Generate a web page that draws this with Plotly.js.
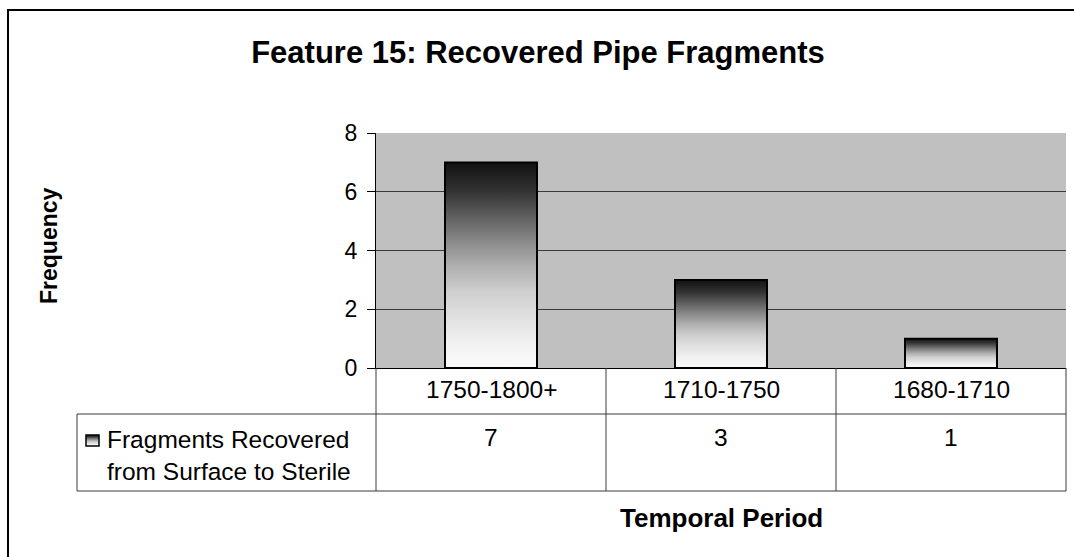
<!DOCTYPE html>
<html>
<head>
<meta charset="utf-8">
<script src="https://cdn.plot.ly/plotly-3.0.1.min.js"></script>
<style>
  html, body { margin: 0; padding: 0; background: #ffffff; overflow: hidden; }
  #wrap { position: relative; width: 1074px; height: 557px; }
  #chart { width: 1074px; height: 557px; }
  #frame { position: absolute; left: 7px; top: 9px; width: 1100px; height: 600px;
           border-left: 2px solid #000; border-top: 2px solid #000; pointer-events: none; }
</style>
</head>
<body>
<svg width="0" height="0" style="position:absolute">
  <defs>
    <linearGradient id="barGrad" x1="0" y1="0" x2="0" y2="1">
      <stop offset="0" stop-color="#111111"/>
      <stop offset="0.14" stop-color="#333333"/>
      <stop offset="0.25" stop-color="#5a5a5a"/>
      <stop offset="0.38" stop-color="#888888"/>
      <stop offset="0.5" stop-color="#aeaeae"/>
      <stop offset="0.63" stop-color="#cfcfcf"/>
      <stop offset="0.87" stop-color="#f0f0f0"/>
      <stop offset="1" stop-color="#fbfbfb"/>
    </linearGradient>
  </defs>
</svg>
<div id="wrap">
  <div id="chart"></div>
  <div id="frame"></div>
</div>
<script>
// ---- data ----
const chartTitle = 'Feature 15: Recovered Pipe Fragments';
const categories = ['1750-1800+', '1710-1750', '1680-1710'];
const fragments = [7, 3, 1];
const seriesName = 'Fragments Recovered from Surface to Sterile';
const legendLines = ['Fragments Recovered', 'from Surface to Sterile'];
const yTicks = [0, 2, 4, 6, 8];
const xTitle = 'Temporal Period';
const yTitle = 'Frequency';

// ---- layout geometry (pixels) ----
const W = 1074, H = 557;
const plotL = 376, plotR = 1066, plotT = 133, plotB = 368;
const pw = plotR - plotL, ph = plotB - plotT;
const px = x => (x - plotL) / pw;        // pixel x -> paper x
const py = y => (plotB - y) / ph;        // pixel y -> paper y

const FONT = '"Liberation Sans", Arial, sans-serif';
const lineCol = '#3a3a3a';
const tableFont = 24.5;

const rowHeadBottom = 414, rowDataBottom = 491, legendLeft = 77;

const shapes = [];
// table lines
shapes.push({type: 'line', xref: 'paper', yref: 'paper', x0: px(legendLeft), x1: 1, y0: py(rowHeadBottom), y1: py(rowHeadBottom), line: {color: lineCol, width: 1}});
shapes.push({type: 'line', xref: 'paper', yref: 'paper', x0: px(legendLeft), x1: 1, y0: py(rowDataBottom), y1: py(rowDataBottom), line: {color: lineCol, width: 1}});
shapes.push({type: 'line', xref: 'paper', yref: 'paper', x0: px(legendLeft), x1: px(legendLeft), y0: py(rowHeadBottom), y1: py(rowDataBottom), line: {color: lineCol, width: 1}});
shapes.push({type: 'line', xref: 'paper', yref: 'paper', x0: 0, x1: 0, y0: 0, y1: py(rowDataBottom), line: {color: lineCol, width: 1}});
shapes.push({type: 'line', xref: 'paper', yref: 'paper', x0: 1, x1: 1, y0: 0, y1: py(rowDataBottom), line: {color: lineCol, width: 1}});
for (let i = 0; i < categories.length - 1; i++) {
  shapes.push({type: 'line', xref: 'x', yref: 'paper', x0: i + 0.5, x1: i + 0.5, y0: 0, y1: py(rowDataBottom), line: {color: lineCol, width: 1}});
}
// legend key square
const keyIndex = shapes.length;
shapes.push({type: 'rect', xref: 'paper', yref: 'paper', x0: px(86), x1: px(99), y0: py(446), y1: py(435),
  fillcolor: '#888888', line: {color: '#000000', width: 1.5}});

const annotations = [];
// header row: categories
categories.forEach((c, i) => {
  annotations.push({xref: 'x', yref: 'paper', x: i, y: py(389), text: c, showarrow: false,
    xanchor: 'center', yanchor: 'middle', font: {family: FONT, size: tableFont, color: '#000'}});
});
// data row: values
fragments.forEach((v, i) => {
  annotations.push({xref: 'x', yref: 'paper', x: i, y: py(437), text: String(v), showarrow: false,
    xanchor: 'center', yanchor: 'middle', font: {family: FONT, size: tableFont, color: '#000'}});
});
// legend text
annotations.push({xref: 'paper', yref: 'paper', x: px(106), y: py(439), text: legendLines[0], showarrow: false,
  xanchor: 'left', yanchor: 'middle', borderpad: 0, font: {family: FONT, size: tableFont, color: '#000'}});
annotations.push({xref: 'paper', yref: 'paper', x: px(106), y: py(471), text: legendLines[1], showarrow: false,
  xanchor: 'left', yanchor: 'middle', borderpad: 0, font: {family: FONT, size: tableFont, color: '#000'}});
// axis titles
annotations.push({xref: 'paper', yref: 'paper', x: 0.5, y: py(518), text: '<b>' + xTitle + '</b>', showarrow: false,
  xanchor: 'center', yanchor: 'middle', font: {family: FONT, size: 26, color: '#000'}});
annotations.push({xref: 'paper', yref: 'paper', x: px(49), y: py(246), text: '<b>' + yTitle + '</b>', showarrow: false,
  textangle: -90, xanchor: 'center', yanchor: 'middle', font: {family: FONT, size: 23, color: '#000'}});

const trace = {
  type: 'bar',
  name: seriesName,
  x: categories.map((c, i) => i),
  y: fragments,
  width: 0.4,
  marker: {color: '#888888', line: {color: '#000000', width: 2}},
  showlegend: false,
  hoverinfo: 'skip'
};

const layout = {
  width: W, height: H,
  margin: {l: plotL, r: W - plotR, t: plotT, b: H - plotB, pad: 0},
  paper_bgcolor: '#ffffff',
  plot_bgcolor: '#c0c0c0',
  showlegend: false,
  title: {text: '<b>' + chartTitle + '</b>', x: 538 / W, xref: 'container', xanchor: 'center',
          y: 1 - 52 / H, yref: 'container', yanchor: 'middle',
          font: {family: FONT, size: 31, color: '#000'}},
  xaxis: {
    type: 'linear', range: [-0.5, categories.length - 0.5], showticklabels: false, showgrid: false,
    zeroline: false, showline: true, linecolor: '#000', linewidth: 1, ticks: '', fixedrange: true
  },
  yaxis: {
    range: [0, 8], tickvals: yTicks, ticktext: yTicks.map(String),
    showgrid: true, gridcolor: lineCol, gridwidth: 1, zeroline: false,
    showline: true, linecolor: '#000', linewidth: 1,
    ticks: 'outside', ticklen: 8, tickcolor: '#000', tickwidth: 1,
    ticklabelstandoff: 5,
    tickfont: {family: FONT, size: 23, color: '#000'}, fixedrange: true
  },
  shapes: shapes,
  annotations: annotations
};

function applyGradients() {
  document.querySelectorAll('#chart .bars .point path').forEach(p => {
    p.style.fill = 'url(#barGrad)';
    p.style.fillOpacity = 1;
  });
  document.querySelectorAll('#chart .shapelayer path[data-index="' + keyIndex + '"]').forEach(p => {
    p.style.fill = 'url(#barGrad)';
    p.style.fillOpacity = 1;
  });
}

Plotly.newPlot('chart', [trace], layout, {staticPlot: true, displayModeBar: false}).then(gd => {
  applyGradients();
  gd.on('plotly_afterplot', applyGradients);
});
</script>
</body>
</html>
